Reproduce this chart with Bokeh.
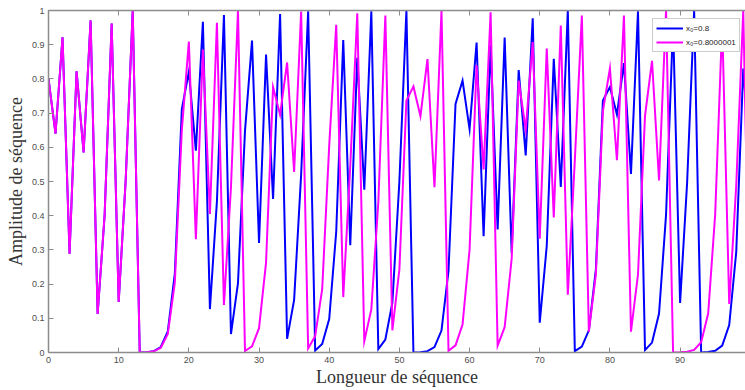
from bokeh.plotting import figure
from bokeh.models import (ColumnDataSource, Range1d, LinearAxis, FixedTicker,
                          Legend, LegendItem)
from bokeh.embed import file_html
from bokeh.resources import INLINE

# ---------------- data ----------------
seq_index = list(range(101))

seq_x0_08 = [
    0.8, 0.64, 0.9216, 0.289, 0.822, 0.585, 0.971, 0.113, 0.402, 0.962,
    0.148, 0.504, 1.0, 0.0002, 0.001, 0.004, 0.016, 0.062, 0.231, 0.712,
    0.821, 0.59, 0.967, 0.127, 0.442, 0.987, 0.054, 0.203, 0.648, 0.912,
    0.32, 0.871, 0.449, 0.99, 0.04, 0.154, 0.52, 0.998, 0.006, 0.025,
    0.098, 0.353, 0.914, 0.314, 0.862, 0.476, 0.998, 0.01, 0.038, 0.146,
    0.5, 1.0, 0.0003, 0.001, 0.004, 0.016, 0.064, 0.239, 0.727, 0.795,
    0.653, 0.906, 0.34, 0.898, 0.36, 0.921, 0.291, 0.826, 0.576, 0.977,
    0.087, 0.312, 0.859, 0.484, 0.999, 0.004, 0.017, 0.065, 0.243, 0.737,
    0.776, 0.696, 0.846, 0.522, 0.998, 0.007, 0.029, 0.114, 0.403, 0.962,
    0.145, 0.496, 1.0, 0.0003, 0.0013, 0.005, 0.02, 0.08, 0.294, 0.83,
    0.564,
]

seq_x0_08000001 = [
    0.8, 0.64, 0.9216, 0.289, 0.822, 0.585, 0.971, 0.113, 0.402, 0.962,
    0.148, 0.504, 1.0, 0.0002, 0.0009, 0.0034, 0.0137, 0.054, 0.204, 0.651,
    0.909, 0.331, 0.886, 0.405, 0.964, 0.139, 0.483, 0.999, 0.0045, 0.018,
    0.071, 0.263, 0.776, 0.695, 0.848, 0.528, 0.997, 0.012, 0.048, 0.185,
    0.605, 0.958, 0.162, 0.545, 0.992, 0.033, 0.126, 0.44, 0.985, 0.065,
    0.243, 0.736, 0.778, 0.691, 0.858, 0.483, 0.999, 0.0053, 0.021, 0.082,
    0.30, 0.84, 0.535, 0.995, 0.02, 0.074, 0.274, 0.795, 0.652, 0.908,
    0.333, 0.889, 0.395, 0.956, 0.169, 0.562, 0.985, 0.061, 0.229, 0.706,
    0.831, 0.562, 0.985, 0.061, 0.228, 0.692, 0.853, 0.503, 1.0, 0.0001,
    0.0005, 0.002, 0.0076, 0.03, 0.114, 0.404, 0.963, 0.142, 0.488, 0.999,
    0.002,
]

series_labels = ["x\u2080=0.8", "x\u2080=0.8000001"]
series_colors = ["#0000ff", "#ff00ff"]

x_ticks = [0, 10, 20, 30, 40, 50, 60, 70, 80, 90, 100]
y_ticks = [0, 0.1, 0.2, 0.3, 0.4, 0.5, 0.6, 0.7, 0.8, 0.9, 1]
y_tick_labels = ["0", "0.1", "0.2", "0.3", "0.4", "0.5", "0.6", "0.7", "0.8", "0.9", "1"]

x_title = "Longueur de s\u00e9quence"
y_title = "Amplitude de s\u00e9quence"

# ---------------- styling ----------------
AXIS_COLOR = "#8c8c8c"
TICK_TEXT = "#4d4d4d"
TITLE_TEXT = "#333333"
SANS = "Liberation Sans"
SERIF = "Liberation Serif"

source = ColumnDataSource(dict(n=seq_index, a=seq_x0_08, b=seq_x0_08000001))

p = figure(width=745, height=390, output_backend="svg", toolbar_location=None,
           x_range=Range1d(0, 99.32), y_range=Range1d(0, 1),
           min_border_left=48, min_border_right=0, min_border_top=10,
           min_border_bottom=38)
p.outline_line_color = None
p.xgrid.grid_line_color = None
p.ygrid.grid_line_color = None
p.background_fill_color = "white"
p.border_fill_color = "white"

r1 = p.line("n", "a", source=source, line_color=series_colors[0], line_width=2,
            line_join="miter")
r2 = p.line("n", "b", source=source, line_color=series_colors[1], line_width=2,
            line_join="miter")


def style_axis(ax):
    ax.axis_line_color = AXIS_COLOR
    ax.axis_line_width = 1.5
    ax.major_tick_line_color = AXIS_COLOR
    ax.major_tick_line_width = 1
    ax.major_tick_in = 5
    ax.major_tick_out = 0
    ax.minor_tick_line_color = None
    ax.major_label_text_font = SANS
    ax.major_label_text_color = TICK_TEXT
    ax.major_label_text_font_size = "9px"
    ax.major_label_standoff = 4
    ax.axis_label_text_font = SERIF
    ax.axis_label_text_font_size = "18px"
    ax.axis_label_text_font_style = "normal"
    ax.axis_label_text_color = TITLE_TEXT


xaxis = p.xaxis[0]
xaxis.ticker = FixedTicker(ticks=x_ticks)
style_axis(xaxis)
xaxis.axis_label = x_title
xaxis.axis_label_standoff = 1

yaxis = p.yaxis[0]
yaxis.ticker = FixedTicker(ticks=y_ticks)
yaxis.major_label_overrides = {t: lab for t, lab in zip(y_ticks, y_tick_labels)}
style_axis(yaxis)
yaxis.axis_label = y_title
yaxis.axis_label_standoff = 3

# box top edge (MATLAB "box on"), ticks only
top_axis = LinearAxis(ticker=FixedTicker(ticks=x_ticks))
style_axis(top_axis)
top_axis.major_label_overrides = {t: "" for t in x_ticks}
top_axis.major_label_standoff = 0
p.add_layout(top_axis, "above")

legend = Legend(items=[LegendItem(label=series_labels[0], renderers=[r1]),
                       LegendItem(label=series_labels[1], renderers=[r2])],
                location=(604, 300))
legend.border_line_color = "#9a9a9a"
legend.border_line_width = 1
legend.background_fill_color = "white"
legend.background_fill_alpha = 1
legend.label_text_font = SANS
legend.label_text_font_size = "8px"
legend.label_text_color = "#222222"
legend.glyph_width = 27
legend.glyph_height = 12
legend.label_height = 12
legend.label_standoff = 3
legend.spacing = 2
legend.padding = 3
legend.margin = 0
p.add_layout(legend)

open("out.html", "w").write(file_html(p, INLINE))
